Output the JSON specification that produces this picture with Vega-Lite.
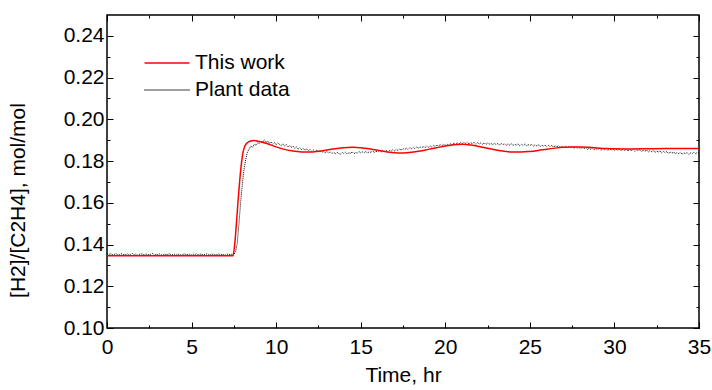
{
"$schema":"https://vega.github.io/schema/vega-lite/v6.json",
"width":592,"height":313,
"autosize":"none",
"padding":{"left":107,"top":15,"right":13,"bottom":62},
"background":"white",
"config":{"view":{"stroke":"black","strokeWidth":1.5},"font":"Liberation Sans"},
"datasets":{
"plant":[
{"t":0.0,"v":0.1355},{"t":0.1,"v":0.1351},{"t":0.2,"v":0.1356},{"t":0.3,"v":0.1352},{"t":0.4,"v":0.1350},{"t":0.5,"v":0.1357},{"t":0.6,"v":0.1353},{"t":0.7,"v":0.1349},{"t":0.8,"v":0.1354},{"t":0.9,"v":0.1356},
{"t":1.0,"v":0.1351},{"t":1.1,"v":0.1352},{"t":1.2,"v":0.1355},{"t":1.3,"v":0.1350},{"t":1.4,"v":0.1353},{"t":1.5,"v":0.1357},{"t":1.6,"v":0.1351},{"t":1.7,"v":0.1354},{"t":1.8,"v":0.1349},{"t":1.9,"v":0.1352},
{"t":2.0,"v":0.1356},{"t":2.1,"v":0.1353},{"t":2.2,"v":0.1350},{"t":2.3,"v":0.1355},{"t":2.4,"v":0.1352},{"t":2.5,"v":0.1351},{"t":2.6,"v":0.1354},{"t":2.7,"v":0.1357},{"t":2.8,"v":0.1350},{"t":2.9,"v":0.1353},
{"t":3.0,"v":0.1352},{"t":3.1,"v":0.1355},{"t":3.2,"v":0.1351},{"t":3.3,"v":0.1349},{"t":3.4,"v":0.1354},{"t":3.5,"v":0.1352},{"t":3.6,"v":0.1353},{"t":3.7,"v":0.1356},{"t":3.8,"v":0.1350},{"t":3.9,"v":0.1352},
{"t":4.0,"v":0.1353},{"t":4.1,"v":0.1351},{"t":4.2,"v":0.1354},{"t":4.3,"v":0.1352},{"t":4.4,"v":0.1349},{"t":4.5,"v":0.1353},{"t":4.6,"v":0.1355},{"t":4.7,"v":0.1351},{"t":4.8,"v":0.1352},{"t":4.9,"v":0.1354},
{"t":5.0,"v":0.1350},{"t":5.1,"v":0.1353},{"t":5.2,"v":0.1352},{"t":5.3,"v":0.1356},{"t":5.4,"v":0.1351},{"t":5.5,"v":0.1354},{"t":5.6,"v":0.1352},{"t":5.7,"v":0.1350},{"t":5.8,"v":0.1353},{"t":5.9,"v":0.1355},
{"t":6.0,"v":0.1352},{"t":6.1,"v":0.1351},{"t":6.2,"v":0.1354},{"t":6.3,"v":0.1353},{"t":6.4,"v":0.1350},{"t":6.5,"v":0.1352},{"t":6.6,"v":0.1355},{"t":6.7,"v":0.1351},{"t":6.8,"v":0.1353},{"t":6.9,"v":0.1352},
{"t":7.0,"v":0.1350},{"t":7.1,"v":0.1354},{"t":7.2,"v":0.1353},{"t":7.3,"v":0.1351},{"t":7.4,"v":0.1355},{"t":7.5,"v":0.1352},{"t":7.6,"v":0.1365},{"t":7.7,"v":0.1405},{"t":7.8,"v":0.1498},{"t":7.9,"v":0.1602},
{"t":8.0,"v":0.1688},{"t":8.1,"v":0.1760},{"t":8.2,"v":0.1808},{"t":8.3,"v":0.1842},{"t":8.4,"v":0.1858},{"t":8.5,"v":0.1872},{"t":8.6,"v":0.1866},{"t":8.7,"v":0.1880},{"t":8.8,"v":0.1876},{"t":8.9,"v":0.1887},
{"t":9.0,"v":0.1884},{"t":9.1,"v":0.1898},{"t":9.2,"v":0.1890},{"t":9.3,"v":0.1902},{"t":9.4,"v":0.1889},{"t":9.5,"v":0.1896},{"t":9.6,"v":0.1885},{"t":9.7,"v":0.1893},{"t":9.8,"v":0.1881},{"t":9.9,"v":0.1889},
{"t":10.0,"v":0.1878},{"t":10.1,"v":0.1887},{"t":10.2,"v":0.1880},{"t":10.3,"v":0.1874},{"t":10.4,"v":0.1883},{"t":10.5,"v":0.1871},{"t":10.6,"v":0.1879},{"t":10.7,"v":0.1868},{"t":10.8,"v":0.1875},{"t":10.9,"v":0.1866},
{"t":11.0,"v":0.1871},{"t":11.1,"v":0.1861},{"t":11.2,"v":0.1868},{"t":11.3,"v":0.1857},{"t":11.4,"v":0.1864},{"t":11.5,"v":0.1855},{"t":11.6,"v":0.1861},{"t":11.7,"v":0.1852},{"t":11.8,"v":0.1858},{"t":11.9,"v":0.1850},
{"t":12.0,"v":0.1856},{"t":12.1,"v":0.1847},{"t":12.2,"v":0.1853},{"t":12.3,"v":0.1845},{"t":12.4,"v":0.1851},{"t":12.5,"v":0.1843},{"t":12.6,"v":0.1849},{"t":12.7,"v":0.1841},{"t":12.8,"v":0.1847},{"t":12.9,"v":0.1839},
{"t":13.0,"v":0.1846},{"t":13.1,"v":0.1838},{"t":13.2,"v":0.1844},{"t":13.3,"v":0.1836},{"t":13.4,"v":0.1843},{"t":13.5,"v":0.1835},{"t":13.6,"v":0.1842},{"t":13.7,"v":0.1837},{"t":13.8,"v":0.1833},{"t":13.9,"v":0.1841},
{"t":14.0,"v":0.1836},{"t":14.1,"v":0.1843},{"t":14.2,"v":0.1834},{"t":14.3,"v":0.1840},{"t":14.4,"v":0.1837},{"t":14.5,"v":0.1844},{"t":14.6,"v":0.1835},{"t":14.7,"v":0.1841},{"t":14.8,"v":0.1838},{"t":14.9,"v":0.1846},
{"t":15.0,"v":0.1839},{"t":15.1,"v":0.1844},{"t":15.2,"v":0.1840},{"t":15.3,"v":0.1847},{"t":15.4,"v":0.1838},{"t":15.5,"v":0.1845},{"t":15.6,"v":0.1842},{"t":15.7,"v":0.1849},{"t":15.8,"v":0.1841},{"t":15.9,"v":0.1847},
{"t":16.0,"v":0.1844},{"t":16.1,"v":0.1851},{"t":16.2,"v":0.1843},{"t":16.3,"v":0.1849},{"t":16.4,"v":0.1846},{"t":16.5,"v":0.1852},{"t":16.6,"v":0.1845},{"t":16.7,"v":0.1851},{"t":16.8,"v":0.1848},{"t":16.9,"v":0.1855},
{"t":17.0,"v":0.1849},{"t":17.1,"v":0.1856},{"t":17.2,"v":0.1851},{"t":17.3,"v":0.1858},{"t":17.4,"v":0.1852},{"t":17.5,"v":0.1860},{"t":17.6,"v":0.1855},{"t":17.7,"v":0.1862},{"t":17.8,"v":0.1856},{"t":17.9,"v":0.1864},
{"t":18.0,"v":0.1859},{"t":18.1,"v":0.1866},{"t":18.2,"v":0.1860},{"t":18.3,"v":0.1867},{"t":18.4,"v":0.1861},{"t":18.5,"v":0.1869},{"t":18.6,"v":0.1863},{"t":18.7,"v":0.1870},{"t":18.8,"v":0.1864},{"t":18.9,"v":0.1872},
{"t":19.0,"v":0.1866},{"t":19.1,"v":0.1873},{"t":19.2,"v":0.1868},{"t":19.3,"v":0.1875},{"t":19.4,"v":0.1869},{"t":19.5,"v":0.1877},{"t":19.6,"v":0.1871},{"t":19.7,"v":0.1879},{"t":19.8,"v":0.1873},{"t":19.9,"v":0.1880},
{"t":20.0,"v":0.1875},{"t":20.1,"v":0.1882},{"t":20.2,"v":0.1876},{"t":20.3,"v":0.1884},{"t":20.4,"v":0.1878},{"t":20.5,"v":0.1885},{"t":20.6,"v":0.1880},{"t":20.7,"v":0.1888},{"t":20.8,"v":0.1881},{"t":20.9,"v":0.1889},
{"t":21.0,"v":0.1883},{"t":21.1,"v":0.1890},{"t":21.2,"v":0.1884},{"t":21.3,"v":0.1891},{"t":21.4,"v":0.1882},{"t":21.5,"v":0.1889},{"t":21.6,"v":0.1883},{"t":21.7,"v":0.1890},{"t":21.8,"v":0.1881},{"t":21.9,"v":0.1888},
{"t":22.0,"v":0.1882},{"t":22.1,"v":0.1887},{"t":22.2,"v":0.1880},{"t":22.3,"v":0.1888},{"t":22.4,"v":0.1879},{"t":22.5,"v":0.1886},{"t":22.6,"v":0.1881},{"t":22.7,"v":0.1885},{"t":22.8,"v":0.1878},{"t":22.9,"v":0.1886},
{"t":23.0,"v":0.1879},{"t":23.1,"v":0.1884},{"t":23.2,"v":0.1876},{"t":23.3,"v":0.1885},{"t":23.4,"v":0.1878},{"t":23.5,"v":0.1883},{"t":23.6,"v":0.1875},{"t":23.7,"v":0.1882},{"t":23.8,"v":0.1877},{"t":23.9,"v":0.1884},
{"t":24.0,"v":0.1874},{"t":24.1,"v":0.1881},{"t":24.2,"v":0.1876},{"t":24.3,"v":0.1883},{"t":24.4,"v":0.1873},{"t":24.5,"v":0.1880},{"t":24.6,"v":0.1875},{"t":24.7,"v":0.1882},{"t":24.8,"v":0.1872},{"t":24.9,"v":0.1879},
{"t":25.0,"v":0.1874},{"t":25.1,"v":0.1880},{"t":25.2,"v":0.1871},{"t":25.3,"v":0.1878},{"t":25.4,"v":0.1873},{"t":25.5,"v":0.1879},{"t":25.6,"v":0.1869},{"t":25.7,"v":0.1876},{"t":25.8,"v":0.1871},{"t":25.9,"v":0.1877},
{"t":26.0,"v":0.1868},{"t":26.1,"v":0.1875},{"t":26.2,"v":0.1870},{"t":26.3,"v":0.1876},{"t":26.4,"v":0.1866},{"t":26.5,"v":0.1873},{"t":26.6,"v":0.1868},{"t":26.7,"v":0.1874},{"t":26.8,"v":0.1865},{"t":26.9,"v":0.1872},
{"t":27.0,"v":0.1866},{"t":27.1,"v":0.1871},{"t":27.2,"v":0.1863},{"t":27.3,"v":0.1870},{"t":27.4,"v":0.1864},{"t":27.5,"v":0.1869},{"t":27.6,"v":0.1861},{"t":27.7,"v":0.1867},{"t":27.8,"v":0.1862},{"t":27.9,"v":0.1866},
{"t":28.0,"v":0.1859},{"t":28.1,"v":0.1865},{"t":28.2,"v":0.1858},{"t":28.3,"v":0.1864},{"t":28.4,"v":0.1856},{"t":28.5,"v":0.1862},{"t":28.6,"v":0.1857},{"t":28.7,"v":0.1863},{"t":28.8,"v":0.1854},{"t":28.9,"v":0.1860},
{"t":29.0,"v":0.1855},{"t":29.1,"v":0.1861},{"t":29.2,"v":0.1852},{"t":29.3,"v":0.1859},{"t":29.4,"v":0.1854},{"t":29.5,"v":0.1860},{"t":29.6,"v":0.1851},{"t":29.7,"v":0.1858},{"t":29.8,"v":0.1853},{"t":29.9,"v":0.1859},
{"t":30.0,"v":0.1850},{"t":30.1,"v":0.1857},{"t":30.2,"v":0.1852},{"t":30.3,"v":0.1858},{"t":30.4,"v":0.1849},{"t":30.5,"v":0.1856},{"t":30.6,"v":0.1851},{"t":30.7,"v":0.1857},{"t":30.8,"v":0.1848},{"t":30.9,"v":0.1855},
{"t":31.0,"v":0.1850},{"t":31.1,"v":0.1856},{"t":31.2,"v":0.1847},{"t":31.3,"v":0.1854},{"t":31.4,"v":0.1849},{"t":31.5,"v":0.1855},{"t":31.6,"v":0.1845},{"t":31.7,"v":0.1852},{"t":31.8,"v":0.1847},{"t":31.9,"v":0.1853},
{"t":32.0,"v":0.1843},{"t":32.1,"v":0.1850},{"t":32.2,"v":0.1845},{"t":32.3,"v":0.1851},{"t":32.4,"v":0.1841},{"t":32.5,"v":0.1848},{"t":32.6,"v":0.1843},{"t":32.7,"v":0.1849},{"t":32.8,"v":0.1839},{"t":32.9,"v":0.1846},
{"t":33.0,"v":0.1840},{"t":33.1,"v":0.1846},{"t":33.2,"v":0.1836},{"t":33.3,"v":0.1843},{"t":33.4,"v":0.1838},{"t":33.5,"v":0.1844},{"t":33.6,"v":0.1834},{"t":33.7,"v":0.1841},{"t":33.8,"v":0.1836},{"t":33.9,"v":0.1842},
{"t":34.0,"v":0.1833},{"t":34.1,"v":0.1840},{"t":34.2,"v":0.1835},{"t":34.3,"v":0.1841},{"t":34.4,"v":0.1832},{"t":34.5,"v":0.1839},{"t":34.6,"v":0.1836},{"t":34.7,"v":0.1843},{"t":34.8,"v":0.1835},{"t":34.9,"v":0.1842},
{"t":35.0,"v":0.1838}
],
"model":[
{"t":0,"v":0.1346},{"t":7.45,"v":0.1346},{"t":7.55,"v":0.140},{"t":7.65,"v":0.150},{"t":7.75,"v":0.161},{"t":7.85,"v":0.171},{"t":7.95,"v":0.179},{"t":8.05,"v":0.1845},{"t":8.15,"v":0.1872},{"t":8.3,"v":0.1888},{"t":8.5,"v":0.1896},{"t":8.7,"v":0.1898},{"t":9.0,"v":0.1894},{"t":9.5,"v":0.1883},{"t":10,"v":0.1868},{"t":10.5,"v":0.1856},{"t":11,"v":0.1848},{"t":11.5,"v":0.1844},{"t":12,"v":0.1843},{"t":12.5,"v":0.1847},{"t":13,"v":0.1853},{"t":13.5,"v":0.1859},{"t":14,"v":0.1864},{"t":14.5,"v":0.1866},{"t":15,"v":0.1864},{"t":15.5,"v":0.1859},{"t":16,"v":0.1852},{"t":16.5,"v":0.1845},{"t":17,"v":0.1840},{"t":17.5,"v":0.1839},{"t":18,"v":0.1842},{"t":18.5,"v":0.1848},{"t":19,"v":0.1856},{"t":19.5,"v":0.1864},{"t":20,"v":0.1872},{"t":20.5,"v":0.1878},{"t":21,"v":0.1880},{"t":21.5,"v":0.1877},{"t":22,"v":0.1870},{"t":22.5,"v":0.1861},{"t":23,"v":0.1853},{"t":23.5,"v":0.1847},{"t":24,"v":0.1843},{"t":24.5,"v":0.1843},{"t":25,"v":0.1846},{"t":25.5,"v":0.1851},{"t":26,"v":0.1857},{"t":26.5,"v":0.1862},{"t":27,"v":0.1866},{"t":27.5,"v":0.1868},{"t":28,"v":0.1868},{"t":28.5,"v":0.1866},{"t":29,"v":0.1863},{"t":29.5,"v":0.1860},{"t":30,"v":0.1859},{"t":31,"v":0.1858},{"t":32,"v":0.1859},{"t":33,"v":0.1860},{"t":34,"v":0.1860},{"t":35,"v":0.1860}
]
},
"resolve":{"axis":{"x":"independent","y":"independent"}},
"layer":[
{
"data":{"name":"plant"},
"mark":{"type":"line","strokeWidth":1,"strokeDash":[1,1],"interpolate":"linear","clip":true},
"encoding":{
"x":{"field":"t","type":"quantitative","scale":{"domain":[0,35],"nice":false,"zero":false},
"axis":{"orient":"bottom","title":"Time, hr","values":[0,2.5,5,7.5,10,12.5,15,17.5,20,22.5,25,27.5,30,32.5,35],
"labelExpr":"datum.value % 5 === 0 ? datum.label : ''","grid":false,"domain":false,
"tickColor":"black","tickWidth":1,"tickSize":{"condition":{"test":"datum.value % 5 !== 0","value":-3},"value":-6},
"labelPadding":14,"labelFontSize":21,"labelColor":"black","labelFont":"Liberation Sans","labelFlush":false,
"titleFontSize":21,"titleFontWeight":"normal","titleColor":"black","titleFont":"Liberation Sans","titlePadding":7}},
"y":{"field":"v","type":"quantitative","scale":{"domain":[0.10,0.25],"nice":false,"zero":false},
"axis":{"orient":"left","title":"[H2]/[C2H4], mol/mol","values":[0.10,0.11,0.12,0.13,0.14,0.15,0.16,0.17,0.18,0.19,0.20,0.21,0.22,0.23,0.24],
"labelExpr":"round(datum.value*100) % 2 === 0 ? format(datum.value, '.2f') : ''","grid":false,"domain":false,
"tickColor":"black","tickWidth":1,"tickSize":{"condition":{"test":"round(datum.value*100) % 2 === 1","value":-3},"value":-6},
"labelPadding":9,"labelFontSize":21,"labelColor":"black","labelFont":"Liberation Sans","labelFlush":false,
"titleFontSize":21,"titleFontWeight":"normal","titleColor":"black","titleFont":"Liberation Sans",
"titleX":-89,"titleY":185,"titleBaseline":"middle","titleAlign":"center","titleAngle":-90}},
"color":{"datum":"Plant data","type":"nominal","scale":{"domain":["This work","Plant data"],"range":["#ff0000","#000000"]},
"legend":{"orient":"none","legendX":48,"legendY":36,"title":null,"symbolType":"M-2,0H2","symbolSize":506,"symbolStrokeWidth":1.5,
"labelFontSize":21,"labelFont":"Liberation Sans","labelColor":"black","labelOffset":16,"rowPadding":5,
"encode":{"symbols":{"update":{"strokeDash":[{"test":"datum.value === 'Plant data'","value":[1,1]},{"value":[1,0]}]}}}}}
}
},
{
"data":{"name":"model"},
"mark":{"type":"line","strokeWidth":1.5,"interpolate":"monotone","clip":true},
"encoding":{
"x":{"field":"t","type":"quantitative",
"axis":{"orient":"top","title":null,"labels":false,"values":[0,2.5,5,7.5,10,12.5,15,17.5,20,22.5,25,27.5,30,32.5,35],"grid":false,"domain":false,
"tickColor":"black","tickWidth":1,"tickSize":{"condition":{"test":"datum.value % 5 !== 0","value":-3},"value":-6}}},
"y":{"field":"v","type":"quantitative",
"axis":{"orient":"right","title":null,"labels":false,"values":[0.10,0.11,0.12,0.13,0.14,0.15,0.16,0.17,0.18,0.19,0.20,0.21,0.22,0.23,0.24],"grid":false,"domain":false,
"tickColor":"black","tickWidth":1,"tickSize":{"condition":{"test":"round(datum.value*100) % 2 === 1","value":-3},"value":-6}}},
"color":{"datum":"This work","type":"nominal"}
}
}
]
}
